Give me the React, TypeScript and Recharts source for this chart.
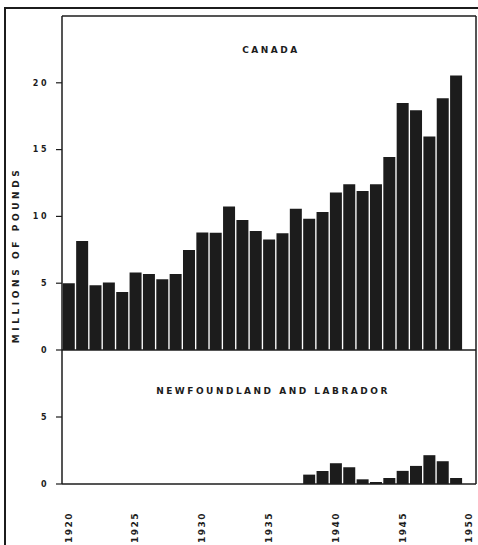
import React from "react";
import { BarChart, Bar, XAxis, YAxis } from "recharts";

const years = [
  "1920", "1921", "1922", "1923", "1924", "1925", "1926", "1927", "1928", "1929",
  "1930", "1931", "1932", "1933", "1934", "1935", "1936", "1937", "1938", "1939",
  "1940", "1941", "1942", "1943", "1944", "1945", "1946", "1947", "1948", "1949",
  "1950",
];

// millions of pounds
const canada = [
  5.0, 8.15, 4.85, 5.05, 4.35, 5.8, 5.68, 5.3, 5.68, 7.48,
  8.8, 8.78, 10.75, 9.73, 8.9, 8.28, 8.73, 10.58, 9.83, 10.33,
  11.78, 12.4, 11.9, 12.4, 14.45, 18.48, 17.95, 15.98, 18.85, 20.55,
  null,
];

const newfoundland = [
  null, null, null, null, null, null, null, null, null, null,
  null, null, null, null, null, null, null, null, 0.7, 0.97,
  1.55, 1.25, 0.35, 0.15, 0.45, 0.98, 1.35, 2.15, 1.7, 0.45,
  null,
];

const canadaTicks = [0, 5, 10, 15, 20];
const nflTicks = [0, 5];

const INK = "#1c1c1c";
const FONT = "'DejaVu Sans', sans-serif";

const data = years.map((year, i) => ({
  year,
  canada: canada[i],
  newfoundland: newfoundland[i],
}));

const yTick = {
  fontSize: 8,
  fontWeight: 700,
  fill: INK,
  letterSpacing: 2.5,
  fontFamily: FONT,
};

const line = { stroke: INK, strokeWidth: 1.5 };

function YearTick({ x, y, payload }: any) {
  return (
    <text
      x={x}
      y={y}
      transform={`rotate(-90 ${x} ${y})`}
      textAnchor="end"
      dominantBaseline="central"
      fontSize={9}
      fontWeight={700}
      letterSpacing={1.5}
      fontFamily={FONT}
      fill={INK}
    >
      {payload.value}
    </text>
  );
}

const title: React.CSSProperties = {
  position: "absolute",
  transform: "translate(-50%, -50%)",
  whiteSpace: "nowrap",
  fontSize: 9,
  fontWeight: 700,
  letterSpacing: 2.5,
  color: INK,
};

export default function App() {
  return (
    <div
      style={{
        position: "absolute",
        left: 0,
        top: 0,
        width: 478,
        height: 545,
        overflow: "hidden",
        background: "#fff",
        fontFamily: FONT,
      }}
    >
      <div style={{ position: "absolute", left: 0, top: 0 }}>
        <BarChart
          width={478}
          height={362}
          data={data}
          margin={{ top: 15, right: 1, left: 32, bottom: 11 }}
          barCategoryGap={0.8}
        >
          <XAxis dataKey="year" height={1} tick={false} tickLine={false} axisLine={line} />
          <XAxis xAxisId="top" dataKey="year" orientation="top" height={1} tick={false} tickLine={false} axisLine={line} />
          <YAxis
            domain={[0, 25]}
            ticks={canadaTicks}
            width={30}
            tick={yTick}
            tickSize={6}
            tickMargin={7}
            tickLine={{ stroke: INK, strokeWidth: 1.2 }}
            axisLine={line}
          />
          <YAxis yAxisId="right" orientation="right" width={1} tick={false} tickLine={false} axisLine={line} />
          <Bar dataKey="canada" fill={INK} isAnimationActive={false} />
        </BarChart>
      </div>

      <div style={{ position: "absolute", left: 0, top: 340 }}>
        <BarChart
          width={478}
          height={205}
          data={data}
          margin={{ top: 10, right: 1, left: 32, bottom: 0 }}
          barCategoryGap={0.8}
        >
          <XAxis
            dataKey="year"
            height={61}
            interval={4}
            tickLine={false}
            tickSize={0}
            tickMargin={28}
            tick={<YearTick />}
            axisLine={line}
          />
          <YAxis
            domain={[0, 10]}
            ticks={nflTicks}
            width={30}
            tick={yTick}
            tickSize={6}
            tickMargin={7}
            tickLine={{ stroke: INK, strokeWidth: 1.2 }}
            axisLine={line}
          />
          <YAxis yAxisId="right" orientation="right" width={1} tick={false} tickLine={false} axisLine={line} />
          <Bar dataKey="newfoundland" fill={INK} isAnimationActive={false} />
        </BarChart>
      </div>

      <div
        style={{
          position: "absolute",
          left: 4,
          top: 7,
          width: 490,
          height: 560,
          boxSizing: "border-box",
          border: `2px solid ${INK}`,
          pointerEvents: "none",
        }}
      />

      <div style={{ ...title, left: 271, top: 50 }}>CANADA</div>
      <div style={{ ...title, left: 273, top: 391 }}>NEWFOUNDLAND AND LABRADOR</div>
      <div
        style={{
          ...title,
          left: 16,
          top: 255,
          letterSpacing: 3.6,
          transform: "translate(-50%, -50%) rotate(-90deg)",
        }}
      >
        MILLIONS OF POUNDS
      </div>
    </div>
  );
}
